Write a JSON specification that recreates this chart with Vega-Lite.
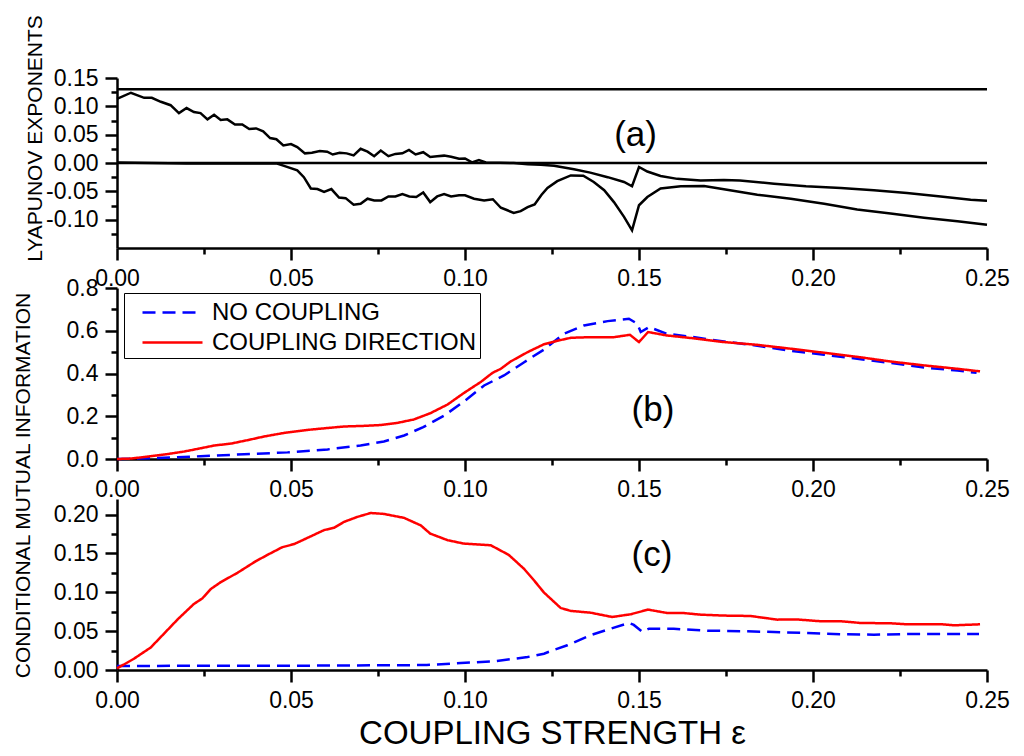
{
  "$schema": "https://vega.github.io/schema/vega-lite/v6.json",
  "padding": {"left": 12, "top": 14, "right": 5, "bottom": 5},
  "bounds": "flush",
  "spacing": 40,
  "datasets": {
    "lyap": [
      {"e": 0, "v": 0.13, "s": "A"}, {"e": 0.25, "v": 0.13, "s": "A"},
      {"e": 0, "v": 0, "s": "B"}, {"e": 0.25, "v": 0, "s": "B"},
      {"e": 0, "v": 0.113, "s": "L1"}, {"e": 0.004, "v": 0.124, "s": "L1"}, {"e": 0.0078, "v": 0.115, "s": "L1"}, {"e": 0.010, "v": 0.115, "s": "L1"},
      {"e": 0.0126, "v": 0.108, "s": "L1"}, {"e": 0.0154, "v": 0.102, "s": "L1"}, {"e": 0.0178, "v": 0.088, "s": "L1"}, {"e": 0.020, "v": 0.097, "s": "L1"},
      {"e": 0.0221, "v": 0.090, "s": "L1"}, {"e": 0.024, "v": 0.088, "s": "L1"}, {"e": 0.026, "v": 0.077, "s": "L1"}, {"e": 0.0279, "v": 0.085, "s": "L1"},
      {"e": 0.0298, "v": 0.076, "s": "L1"}, {"e": 0.0317, "v": 0.077, "s": "L1"}, {"e": 0.0339, "v": 0.068, "s": "L1"}, {"e": 0.036, "v": 0.068, "s": "L1"},
      {"e": 0.038, "v": 0.060, "s": "L1"}, {"e": 0.040, "v": 0.061, "s": "L1"}, {"e": 0.042, "v": 0.056, "s": "L1"}, {"e": 0.044, "v": 0.044, "s": "L1"},
      {"e": 0.0458, "v": 0.042, "s": "L1"}, {"e": 0.0478, "v": 0.031, "s": "L1"}, {"e": 0.050, "v": 0.0335, "s": "L1"}, {"e": 0.0518, "v": 0.028, "s": "L1"},
      {"e": 0.054, "v": 0.017, "s": "L1"}, {"e": 0.056, "v": 0.018, "s": "L1"}, {"e": 0.0583, "v": 0.021, "s": "L1"}, {"e": 0.0604, "v": 0.020, "s": "L1"},
      {"e": 0.062, "v": 0.015, "s": "L1"}, {"e": 0.064, "v": 0.018, "s": "L1"}, {"e": 0.066, "v": 0.017, "s": "L1"}, {"e": 0.068, "v": 0.0135, "s": "L1"},
      {"e": 0.070, "v": 0.025, "s": "L1"}, {"e": 0.072, "v": 0.020, "s": "L1"}, {"e": 0.0739, "v": 0.012, "s": "L1"}, {"e": 0.0758, "v": 0.022, "s": "L1"},
      {"e": 0.078, "v": 0.012, "s": "L1"}, {"e": 0.080, "v": 0.016, "s": "L1"}, {"e": 0.082, "v": 0.017, "s": "L1"}, {"e": 0.0839, "v": 0.023, "s": "L1"},
      {"e": 0.0858, "v": 0.015, "s": "L1"}, {"e": 0.088, "v": 0.019, "s": "L1"}, {"e": 0.090, "v": 0.0106, "s": "L1"}, {"e": 0.092, "v": 0.012, "s": "L1"},
      {"e": 0.094, "v": 0.013, "s": "L1"}, {"e": 0.096, "v": 0.011, "s": "L1"}, {"e": 0.0983, "v": 0.0076, "s": "L1"}, {"e": 0.100, "v": 0.008, "s": "L1"},
      {"e": 0.102, "v": 0.001, "s": "L1"}, {"e": 0.104, "v": 0.005, "s": "L1"}, {"e": 0.106, "v": 0.001, "s": "L1"}, {"e": 0.110, "v": 0.0005, "s": "L1"},
      {"e": 0.114, "v": 0.0, "s": "L1"}, {"e": 0.118, "v": -0.002, "s": "L1"}, {"e": 0.1218, "v": -0.003, "s": "L1"}, {"e": 0.1256, "v": -0.005, "s": "L1"},
      {"e": 0.1313, "v": -0.011, "s": "L1"}, {"e": 0.136, "v": -0.017, "s": "L1"}, {"e": 0.141, "v": -0.025, "s": "L1"}, {"e": 0.1457, "v": -0.0335, "s": "L1"},
      {"e": 0.148, "v": -0.041, "s": "L1"}, {"e": 0.150, "v": -0.007, "s": "L1"}, {"e": 0.1524, "v": -0.015, "s": "L1"}, {"e": 0.1562, "v": -0.023, "s": "L1"},
      {"e": 0.161, "v": -0.028, "s": "L1"}, {"e": 0.1677, "v": -0.031, "s": "L1"}, {"e": 0.1744, "v": -0.030, "s": "L1"}, {"e": 0.179, "v": -0.031, "s": "L1"},
      {"e": 0.1888, "v": -0.0365, "s": "L1"}, {"e": 0.198, "v": -0.041, "s": "L1"}, {"e": 0.208, "v": -0.044, "s": "L1"}, {"e": 0.2175, "v": -0.048, "s": "L1"},
      {"e": 0.227, "v": -0.053, "s": "L1"}, {"e": 0.2367, "v": -0.059, "s": "L1"}, {"e": 0.2453, "v": -0.065, "s": "L1"}, {"e": 0.25, "v": -0.0665, "s": "L1"},
      {"e": 0, "v": 0.001, "s": "L2"}, {"e": 0.01, "v": 0.0, "s": "L2"}, {"e": 0.02, "v": -0.001, "s": "L2"}, {"e": 0.03, "v": -0.001, "s": "L2"},
      {"e": 0.04, "v": -0.001, "s": "L2"}, {"e": 0.046, "v": -0.001, "s": "L2"}, {"e": 0.048, "v": -0.005, "s": "L2"}, {"e": 0.0518, "v": -0.013, "s": "L2"},
      {"e": 0.0537, "v": -0.025, "s": "L2"}, {"e": 0.0557, "v": -0.045, "s": "L2"}, {"e": 0.0576, "v": -0.046, "s": "L2"}, {"e": 0.0595, "v": -0.051, "s": "L2"},
      {"e": 0.0616, "v": -0.046, "s": "L2"}, {"e": 0.0638, "v": -0.061, "s": "L2"}, {"e": 0.0657, "v": -0.062, "s": "L2"}, {"e": 0.068, "v": -0.0735, "s": "L2"},
      {"e": 0.070, "v": -0.072, "s": "L2"}, {"e": 0.072, "v": -0.063, "s": "L2"}, {"e": 0.0739, "v": -0.066, "s": "L2"}, {"e": 0.076, "v": -0.066, "s": "L2"},
      {"e": 0.078, "v": -0.059, "s": "L2"}, {"e": 0.080, "v": -0.059, "s": "L2"}, {"e": 0.082, "v": -0.055, "s": "L2"}, {"e": 0.084, "v": -0.059, "s": "L2"},
      {"e": 0.086, "v": -0.060, "s": "L2"}, {"e": 0.088, "v": -0.052, "s": "L2"}, {"e": 0.090, "v": -0.069, "s": "L2"}, {"e": 0.092, "v": -0.059, "s": "L2"},
      {"e": 0.094, "v": -0.055, "s": "L2"}, {"e": 0.096, "v": -0.059, "s": "L2"}, {"e": 0.0983, "v": -0.057, "s": "L2"}, {"e": 0.100, "v": -0.057, "s": "L2"},
      {"e": 0.1026, "v": -0.063, "s": "L2"}, {"e": 0.1055, "v": -0.066, "s": "L2"}, {"e": 0.108, "v": -0.064, "s": "L2"}, {"e": 0.1103, "v": -0.079, "s": "L2"},
      {"e": 0.112, "v": -0.083, "s": "L2"}, {"e": 0.114, "v": -0.088, "s": "L2"}, {"e": 0.116, "v": -0.085, "s": "L2"}, {"e": 0.118, "v": -0.078, "s": "L2"},
      {"e": 0.120, "v": -0.073, "s": "L2"}, {"e": 0.122, "v": -0.056, "s": "L2"}, {"e": 0.1237, "v": -0.044, "s": "L2"}, {"e": 0.1265, "v": -0.032, "s": "L2"},
      {"e": 0.1304, "v": -0.022, "s": "L2"}, {"e": 0.134, "v": -0.0225, "s": "L2"}, {"e": 0.137, "v": -0.0335, "s": "L2"}, {"e": 0.140, "v": -0.048, "s": "L2"},
      {"e": 0.1428, "v": -0.069, "s": "L2"}, {"e": 0.1457, "v": -0.095, "s": "L2"}, {"e": 0.148, "v": -0.119, "s": "L2"}, {"e": 0.150, "v": -0.0746, "s": "L2"},
      {"e": 0.1524, "v": -0.06, "s": "L2"}, {"e": 0.1562, "v": -0.045, "s": "L2"}, {"e": 0.162, "v": -0.041, "s": "L2"}, {"e": 0.1687, "v": -0.0406, "s": "L2"},
      {"e": 0.1744, "v": -0.0464, "s": "L2"}, {"e": 0.184, "v": -0.056, "s": "L2"}, {"e": 0.1936, "v": -0.063, "s": "L2"}, {"e": 0.2032, "v": -0.072, "s": "L2"},
      {"e": 0.2127, "v": -0.082, "s": "L2"}, {"e": 0.2223, "v": -0.089, "s": "L2"}, {"e": 0.2319, "v": -0.0965, "s": "L2"}, {"e": 0.2415, "v": -0.103, "s": "L2"},
      {"e": 0.25, "v": -0.109, "s": "L2"}
    ],
    "cmi": [
      {"e": 0, "v": 0.0, "s": "NO COUPLING"}, {"e": 0.0097, "v": 0.003, "s": "NO COUPLING"}, {"e": 0.024, "v": 0.013, "s": "NO COUPLING"},
      {"e": 0.0365, "v": 0.022, "s": "NO COUPLING"}, {"e": 0.049, "v": 0.031, "s": "NO COUPLING"}, {"e": 0.0605, "v": 0.045, "s": "NO COUPLING"},
      {"e": 0.070, "v": 0.063, "s": "NO COUPLING"}, {"e": 0.0767, "v": 0.082, "s": "NO COUPLING"}, {"e": 0.0825, "v": 0.110, "s": "NO COUPLING"},
      {"e": 0.088, "v": 0.149, "s": "NO COUPLING"}, {"e": 0.094, "v": 0.203, "s": "NO COUPLING"}, {"e": 0.0997, "v": 0.269, "s": "NO COUPLING"},
      {"e": 0.1055, "v": 0.344, "s": "NO COUPLING"}, {"e": 0.1112, "v": 0.391, "s": "NO COUPLING"}, {"e": 0.117, "v": 0.453, "s": "NO COUPLING"},
      {"e": 0.1227, "v": 0.512, "s": "NO COUPLING"}, {"e": 0.1284, "v": 0.586, "s": "NO COUPLING"}, {"e": 0.1342, "v": 0.625, "s": "NO COUPLING"},
      {"e": 0.141, "v": 0.645, "s": "NO COUPLING"}, {"e": 0.1471, "v": 0.656, "s": "NO COUPLING"}, {"e": 0.1495, "v": 0.633, "s": "NO COUPLING"},
      {"e": 0.1505, "v": 0.594, "s": "NO COUPLING"}, {"e": 0.1529, "v": 0.617, "s": "NO COUPLING"}, {"e": 0.158, "v": 0.586, "s": "NO COUPLING"},
      {"e": 0.1649, "v": 0.572, "s": "NO COUPLING"}, {"e": 0.1744, "v": 0.55, "s": "NO COUPLING"}, {"e": 0.184, "v": 0.53, "s": "NO COUPLING"},
      {"e": 0.1936, "v": 0.506, "s": "NO COUPLING"}, {"e": 0.2032, "v": 0.488, "s": "NO COUPLING"}, {"e": 0.2127, "v": 0.469, "s": "NO COUPLING"},
      {"e": 0.2223, "v": 0.449, "s": "NO COUPLING"}, {"e": 0.2319, "v": 0.428, "s": "NO COUPLING"}, {"e": 0.2415, "v": 0.414, "s": "NO COUPLING"},
      {"e": 0.247, "v": 0.403, "s": "NO COUPLING"},
      {"e": 0, "v": 0.0, "s": "COUPLING DIRECTION"}, {"e": 0.004, "v": 0.002, "s": "COUPLING DIRECTION"}, {"e": 0.0097, "v": 0.013, "s": "COUPLING DIRECTION"},
      {"e": 0.0145, "v": 0.023, "s": "COUPLING DIRECTION"}, {"e": 0.0193, "v": 0.035, "s": "COUPLING DIRECTION"}, {"e": 0.024, "v": 0.050, "s": "COUPLING DIRECTION"},
      {"e": 0.0279, "v": 0.063, "s": "COUPLING DIRECTION"}, {"e": 0.0327, "v": 0.072, "s": "COUPLING DIRECTION"}, {"e": 0.0375, "v": 0.088, "s": "COUPLING DIRECTION"},
      {"e": 0.0422, "v": 0.105, "s": "COUPLING DIRECTION"}, {"e": 0.048, "v": 0.122, "s": "COUPLING DIRECTION"}, {"e": 0.0547, "v": 0.136, "s": "COUPLING DIRECTION"},
      {"e": 0.0605, "v": 0.145, "s": "COUPLING DIRECTION"}, {"e": 0.0652, "v": 0.152, "s": "COUPLING DIRECTION"}, {"e": 0.071, "v": 0.155, "s": "COUPLING DIRECTION"},
      {"e": 0.0758, "v": 0.159, "s": "COUPLING DIRECTION"}, {"e": 0.0806, "v": 0.169, "s": "COUPLING DIRECTION"}, {"e": 0.0853, "v": 0.185, "s": "COUPLING DIRECTION"},
      {"e": 0.090, "v": 0.214, "s": "COUPLING DIRECTION"}, {"e": 0.095, "v": 0.255, "s": "COUPLING DIRECTION"}, {"e": 0.0997, "v": 0.309, "s": "COUPLING DIRECTION"},
      {"e": 0.1045, "v": 0.36, "s": "COUPLING DIRECTION"}, {"e": 0.1079, "v": 0.403, "s": "COUPLING DIRECTION"}, {"e": 0.1103, "v": 0.422, "s": "COUPLING DIRECTION"},
      {"e": 0.1131, "v": 0.456, "s": "COUPLING DIRECTION"}, {"e": 0.118, "v": 0.50, "s": "COUPLING DIRECTION"}, {"e": 0.1227, "v": 0.537, "s": "COUPLING DIRECTION"},
      {"e": 0.1265, "v": 0.553, "s": "COUPLING DIRECTION"}, {"e": 0.1304, "v": 0.567, "s": "COUPLING DIRECTION"}, {"e": 0.136, "v": 0.570, "s": "COUPLING DIRECTION"},
      {"e": 0.1428, "v": 0.570, "s": "COUPLING DIRECTION"}, {"e": 0.1474, "v": 0.581, "s": "COUPLING DIRECTION"}, {"e": 0.150, "v": 0.547, "s": "COUPLING DIRECTION"},
      {"e": 0.1526, "v": 0.594, "s": "COUPLING DIRECTION"}, {"e": 0.158, "v": 0.578, "s": "COUPLING DIRECTION"}, {"e": 0.1649, "v": 0.566, "s": "COUPLING DIRECTION"},
      {"e": 0.1744, "v": 0.547, "s": "COUPLING DIRECTION"}, {"e": 0.184, "v": 0.534, "s": "COUPLING DIRECTION"}, {"e": 0.1936, "v": 0.516, "s": "COUPLING DIRECTION"},
      {"e": 0.2032, "v": 0.497, "s": "COUPLING DIRECTION"}, {"e": 0.2127, "v": 0.478, "s": "COUPLING DIRECTION"}, {"e": 0.2223, "v": 0.456, "s": "COUPLING DIRECTION"},
      {"e": 0.2319, "v": 0.438, "s": "COUPLING DIRECTION"}, {"e": 0.2415, "v": 0.422, "s": "COUPLING DIRECTION"}, {"e": 0.248, "v": 0.41, "s": "COUPLING DIRECTION"}
    ],
    "cmic": [
      {"e": 0, "v": 0.005, "s": "NO COUPLING"}, {"e": 0.027, "v": 0.0056, "s": "NO COUPLING"}, {"e": 0.0557, "v": 0.0056, "s": "NO COUPLING"},
      {"e": 0.075, "v": 0.006, "s": "NO COUPLING"}, {"e": 0.089, "v": 0.0064, "s": "NO COUPLING"}, {"e": 0.0988, "v": 0.009, "s": "NO COUPLING"},
      {"e": 0.1083, "v": 0.0112, "s": "NO COUPLING"}, {"e": 0.118, "v": 0.0167, "s": "NO COUPLING"}, {"e": 0.1227, "v": 0.021, "s": "NO COUPLING"},
      {"e": 0.1256, "v": 0.026, "s": "NO COUPLING"}, {"e": 0.1294, "v": 0.0318, "s": "NO COUPLING"}, {"e": 0.136, "v": 0.0447, "s": "NO COUPLING"},
      {"e": 0.1419, "v": 0.0532, "s": "NO COUPLING"}, {"e": 0.1471, "v": 0.0605, "s": "NO COUPLING"}, {"e": 0.1485, "v": 0.058, "s": "NO COUPLING"},
      {"e": 0.151, "v": 0.049, "s": "NO COUPLING"}, {"e": 0.1529, "v": 0.0532, "s": "NO COUPLING"}, {"e": 0.16, "v": 0.053, "s": "NO COUPLING"},
      {"e": 0.1696, "v": 0.0506, "s": "NO COUPLING"}, {"e": 0.1792, "v": 0.050, "s": "NO COUPLING"}, {"e": 0.1888, "v": 0.0489, "s": "NO COUPLING"},
      {"e": 0.1984, "v": 0.0476, "s": "NO COUPLING"}, {"e": 0.208, "v": 0.046, "s": "NO COUPLING"}, {"e": 0.2175, "v": 0.0455, "s": "NO COUPLING"},
      {"e": 0.2271, "v": 0.0463, "s": "NO COUPLING"}, {"e": 0.2367, "v": 0.0463, "s": "NO COUPLING"}, {"e": 0.2477, "v": 0.0463, "s": "NO COUPLING"},
      {"e": 0, "v": 0.002, "s": "COUPLING DIRECTION"}, {"e": 0.0049, "v": 0.0146, "s": "COUPLING DIRECTION"}, {"e": 0.0097, "v": 0.029, "s": "COUPLING DIRECTION"},
      {"e": 0.0126, "v": 0.0425, "s": "COUPLING DIRECTION"}, {"e": 0.0174, "v": 0.065, "s": "COUPLING DIRECTION"}, {"e": 0.0221, "v": 0.085, "s": "COUPLING DIRECTION"},
      {"e": 0.0245, "v": 0.092, "s": "COUPLING DIRECTION"}, {"e": 0.0269, "v": 0.104, "s": "COUPLING DIRECTION"}, {"e": 0.0298, "v": 0.113, "s": "COUPLING DIRECTION"},
      {"e": 0.0346, "v": 0.125, "s": "COUPLING DIRECTION"}, {"e": 0.0399, "v": 0.140, "s": "COUPLING DIRECTION"}, {"e": 0.0432, "v": 0.148, "s": "COUPLING DIRECTION"},
      {"e": 0.0475, "v": 0.158, "s": "COUPLING DIRECTION"}, {"e": 0.0509, "v": 0.162, "s": "COUPLING DIRECTION"}, {"e": 0.0557, "v": 0.172, "s": "COUPLING DIRECTION"},
      {"e": 0.0595, "v": 0.180, "s": "COUPLING DIRECTION"}, {"e": 0.0624, "v": 0.183, "s": "COUPLING DIRECTION"}, {"e": 0.0652, "v": 0.1905, "s": "COUPLING DIRECTION"},
      {"e": 0.0691, "v": 0.197, "s": "COUPLING DIRECTION"}, {"e": 0.0729, "v": 0.202, "s": "COUPLING DIRECTION"}, {"e": 0.0767, "v": 0.2008, "s": "COUPLING DIRECTION"},
      {"e": 0.0825, "v": 0.1957, "s": "COUPLING DIRECTION"}, {"e": 0.0873, "v": 0.186, "s": "COUPLING DIRECTION"}, {"e": 0.090, "v": 0.1755, "s": "COUPLING DIRECTION"},
      {"e": 0.095, "v": 0.167, "s": "COUPLING DIRECTION"}, {"e": 0.0997, "v": 0.1626, "s": "COUPLING DIRECTION"}, {"e": 0.1074, "v": 0.1605, "s": "COUPLING DIRECTION"},
      {"e": 0.1126, "v": 0.148, "s": "COUPLING DIRECTION"}, {"e": 0.117, "v": 0.130, "s": "COUPLING DIRECTION"}, {"e": 0.1198, "v": 0.1155, "s": "COUPLING DIRECTION"},
      {"e": 0.1227, "v": 0.0996, "s": "COUPLING DIRECTION"}, {"e": 0.1275, "v": 0.0798, "s": "COUPLING DIRECTION"}, {"e": 0.1304, "v": 0.076, "s": "COUPLING DIRECTION"},
      {"e": 0.136, "v": 0.0738, "s": "COUPLING DIRECTION"}, {"e": 0.1423, "v": 0.0682, "s": "COUPLING DIRECTION"}, {"e": 0.1476, "v": 0.0717, "s": "COUPLING DIRECTION"},
      {"e": 0.1526, "v": 0.0777, "s": "COUPLING DIRECTION"}, {"e": 0.158, "v": 0.0734, "s": "COUPLING DIRECTION"}, {"e": 0.1625, "v": 0.0734, "s": "COUPLING DIRECTION"},
      {"e": 0.1677, "v": 0.0712, "s": "COUPLING DIRECTION"}, {"e": 0.1744, "v": 0.070, "s": "COUPLING DIRECTION"}, {"e": 0.182, "v": 0.0695, "s": "COUPLING DIRECTION"},
      {"e": 0.1897, "v": 0.0648, "s": "COUPLING DIRECTION"}, {"e": 0.1955, "v": 0.065, "s": "COUPLING DIRECTION"}, {"e": 0.2022, "v": 0.0627, "s": "COUPLING DIRECTION"},
      {"e": 0.208, "v": 0.0627, "s": "COUPLING DIRECTION"}, {"e": 0.2137, "v": 0.0605, "s": "COUPLING DIRECTION"}, {"e": 0.2223, "v": 0.0601, "s": "COUPLING DIRECTION"},
      {"e": 0.2271, "v": 0.0588, "s": "COUPLING DIRECTION"}, {"e": 0.2367, "v": 0.059, "s": "COUPLING DIRECTION"}, {"e": 0.2405, "v": 0.0575, "s": "COUPLING DIRECTION"},
      {"e": 0.248, "v": 0.0588, "s": "COUPLING DIRECTION"}
    ],
    "panels": [
      {"p": "a", "label": "(a)", "e": 0.149, "v": 0.05},
      {"p": "b", "label": "(b)", "e": 0.154, "v": 0.23},
      {"p": "c", "label": "(c)", "e": 0.1537, "v": 0.148}
    ]
  },
  "vconcat": [
    {
      "width": 870,
      "height": 170,
      "layer": [
        {
          "data": {"name": "lyap"},
          "mark": {"type": "line", "color": "black", "strokeWidth": 2.5},
          "encoding": {
            "x": {
              "field": "e", "type": "quantitative",
              "scale": {"domain": [0, 0.25], "nice": false, "zero": false},
              "axis": {
                "title": null,
                "tickCount": 100,
                "values": [0, 0.025, 0.05, 0.075, 0.1, 0.125, 0.15, 0.175, 0.2, 0.225, 0.25],
                "labelExpr": "round(datum.value*1000)%50==0 ? format(datum.value,'.2f') : ''",
                "tickSize": {"condition": {"test": "round(datum.value*1000)%50==0", "value": 12}, "value": 6}
              }
            },
            "y": {
              "field": "v", "type": "quantitative",
              "scale": {"domain": [-0.15, 0.15], "nice": false, "zero": false},
              "axis": {
                "title": "LYAPUNOV EXPONENTS",
                "titleFontSize": 21,
                "titleAngle": 270,
                "titleAlign": "center",
                "titleBaseline": "middle",
                "titleX": -82,
                "titleY": 60,
                "tickCount": 100,
                "values": [-0.125, -0.1, -0.075, -0.05, -0.025, 0, 0.025, 0.05, 0.075, 0.1, 0.125, 0.15],
                "labelExpr": "round(datum.value*1000+1000)%50==0 ? (datum.value < 0 ? '-' + format(-datum.value,'.2f') : format(datum.value,'.2f')) : ''",
                "tickSize": {"condition": {"test": "round(datum.value*1000+1000)%50==0", "value": 12}, "value": 6}
              }
            },
            "detail": {"field": "s"}
          }
        },
        {
          "data": {"name": "panels"},
          "transform": [{"filter": "datum.p == 'a'"}],
          "mark": {"type": "text", "fontSize": 35, "font": "Liberation Sans", "align": "center", "baseline": "middle", "color": "black"},
          "encoding": {
            "x": {"field": "e", "type": "quantitative"},
            "y": {"field": "v", "type": "quantitative"},
            "text": {"field": "label"}
          }
        }
      ]
    },
    {
      "width": 870,
      "height": 171,
      "layer": [
        {
          "data": {"name": "cmi"},
          "mark": {"type": "line", "strokeWidth": 2.5},
          "encoding": {
            "x": {
              "field": "e", "type": "quantitative",
              "scale": {"domain": [0, 0.25], "nice": false, "zero": false},
              "axis": {
                "title": null,
                "tickCount": 100,
                "values": [0, 0.025, 0.05, 0.075, 0.1, 0.125, 0.15, 0.175, 0.2, 0.225, 0.25],
                "labelExpr": "round(datum.value*1000)%50==0 ? format(datum.value,'.2f') : ''",
                "tickSize": {"condition": {"test": "round(datum.value*1000)%50==0", "value": 12}, "value": 6}
              }
            },
            "y": {
              "field": "v", "type": "quantitative",
              "scale": {"domain": [0, 0.8], "nice": false},
              "axis": {
                "title": null,
                "tickCount": 100,
                "values": [0, 0.1, 0.2, 0.3, 0.4, 0.5, 0.6, 0.7, 0.8],
                "labelExpr": "round(datum.value*10)%2==0 ? format(datum.value,'.1f') : ''",
                "tickSize": {"condition": {"test": "round(datum.value*10)%2==0", "value": 12}, "value": 6}
              }
            },
            "color": {
              "field": "s", "type": "nominal",
              "scale": {"domain": ["NO COUPLING", "COUPLING DIRECTION"], "range": ["#0000ff", "#ff0000"]},
              "legend": {"title": null, "orient": "none", "legendX": 7, "legendY": 5, "strokeColor": "black", "fillColor": "white", "padding": 3, "labelFontSize": 24, "labelFont": "Liberation Sans", "labelColor": "black", "symbolType": "M-2,0H2", "symbolSize": 900, "symbolStrokeWidth": 2.5, "labelOffset": 23, "rowPadding": 1, "symbolOffset": 29, "labelLimit": 400,
                "labelExpr": "(datum.label == 'NO COUPLING' ? '\u00a0' : '') + datum.label + '\u00a0\u00a0\u00a0'"}
            },
            "strokeDash": {
              "field": "s", "type": "nominal",
              "scale": {"domain": ["NO COUPLING", "COUPLING DIRECTION"], "range": [[13, 7], [1, 0]]},
              "legend": {"title": null, "orient": "none", "legendX": 7, "legendY": 5, "strokeColor": "black", "fillColor": "white", "padding": 3, "labelFontSize": 24, "labelFont": "Liberation Sans", "labelColor": "black", "symbolType": "M-2,0H2", "symbolSize": 900, "symbolStrokeWidth": 2.5, "labelOffset": 23, "rowPadding": 1, "symbolOffset": 29, "labelLimit": 400,
                "labelExpr": "(datum.label == 'NO COUPLING' ? '\u00a0' : '') + datum.label + '\u00a0\u00a0\u00a0'"}
            }
          }
        },
        {
          "data": {"name": "panels"},
          "transform": [{"filter": "datum.p == 'b'"}],
          "mark": {"type": "text", "fontSize": 35, "font": "Liberation Sans", "align": "center", "baseline": "middle", "color": "black"},
          "encoding": {
            "x": {"field": "e", "type": "quantitative"},
            "y": {"field": "v", "type": "quantitative"},
            "text": {"field": "label"}
          }
        }
      ]
    },
    {
      "width": 870,
      "height": 171,
      "layer": [
        {
          "data": {"name": "cmic"},
          "mark": {"type": "line", "strokeWidth": 2.5},
          "encoding": {
            "x": {
              "field": "e", "type": "quantitative",
              "scale": {"domain": [0, 0.25], "nice": false, "zero": false},
              "axis": {
                "title": "COUPLING STRENGTH ε",
                "titleFontSize": 33,
                "titleY": 73,
                "titleBaseline": "alphabetic",
                "tickCount": 100,
                "values": [0, 0.025, 0.05, 0.075, 0.1, 0.125, 0.15, 0.175, 0.2, 0.225, 0.25],
                "labelExpr": "round(datum.value*1000)%50==0 ? format(datum.value,'.2f') : ''",
                "tickSize": {"condition": {"test": "round(datum.value*1000)%50==0", "value": 12}, "value": 6}
              }
            },
            "y": {
              "field": "v", "type": "quantitative",
              "scale": {"domain": [0, 0.22], "nice": false},
              "axis": {
                "title": "CONDITIONAL MUTUAL INFORMATION",
                "titleFontSize": 21,
                "titleAngle": 270,
                "titleAlign": "center",
                "titleBaseline": "middle",
                "titleX": -93.5,
                "titleY": -14,
                "tickCount": 100,
                "values": [0, 0.025, 0.05, 0.075, 0.1, 0.125, 0.15, 0.175, 0.2],
                "labelExpr": "round(datum.value*1000)%50==0 ? format(datum.value,'.2f') : ''",
                "tickSize": {"condition": {"test": "round(datum.value*1000)%50==0", "value": 12}, "value": 6}
              }
            },
            "color": {
              "field": "s", "type": "nominal",
              "scale": {"domain": ["NO COUPLING", "COUPLING DIRECTION"], "range": ["#0000ff", "#ff0000"]},
              "legend": null
            },
            "strokeDash": {
              "field": "s", "type": "nominal",
              "scale": {"domain": ["NO COUPLING", "COUPLING DIRECTION"], "range": [[13, 7], [1, 0]]},
              "legend": null
            }
          }
        },
        {
          "data": {"name": "panels"},
          "transform": [{"filter": "datum.p == 'c'"}],
          "mark": {"type": "text", "fontSize": 35, "font": "Liberation Sans", "align": "center", "baseline": "middle", "color": "black"},
          "encoding": {
            "x": {"field": "e", "type": "quantitative"},
            "y": {"field": "v", "type": "quantitative"},
            "text": {"field": "label"}
          }
        }
      ]
    }
  ],
  "resolve": {"scale": {"color": "independent", "strokeDash": "independent"}},
  "config": {
    "view": {"stroke": null},
    "font": "Liberation Sans",
    "axis": {
      "grid": false,
      "domainColor": "black",
      "domainWidth": 2.5,
      "tickColor": "black",
      "tickWidth": 2.5,
      "labelFont": "Liberation Sans",
      "labelFontSize": 23,
      "labelColor": "black",
      "labelFlush": false,
      "labelOverlap": false,
      "labelPadding": 7,
      "titleFont": "Liberation Sans",
      "titleColor": "black",
      "titleFontWeight": "normal"
    }
  }
}
